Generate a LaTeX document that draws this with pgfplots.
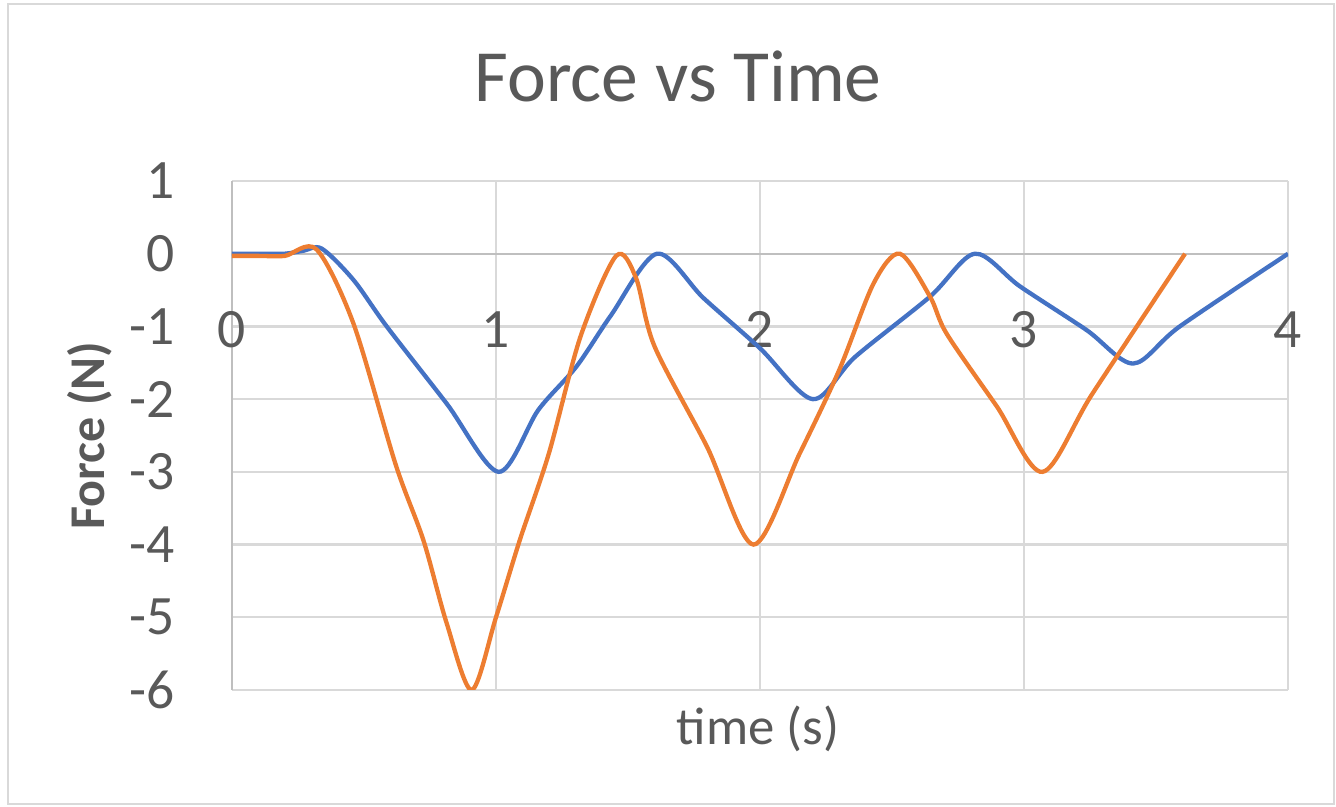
\documentclass[border=0pt]{standalone}
\usepackage{fontspec}
\setmainfont{Carlito}
\usepackage{pgfplots}
\pgfplotsset{compat=1.18}
\definecolor{xlblue}{HTML}{4472C4}
\definecolor{xlorange}{HTML}{ED7D31}
\definecolor{txt}{HTML}{595959}
\definecolor{grd}{HTML}{D9D9D9}
\definecolor{axl}{HTML}{BFBFBF}

\begin{document}
\begin{tikzpicture}
\useasboundingbox (-83.52pt,-42.12pt) rectangle (397.44pt,248.4pt);
\draw[grd, line width=0.8pt] (-80.64pt,-41.04pt) rectangle (396.72pt,246.96pt);
\begin{axis}[
  scale only axis, width=380.16pt, height=183.24pt,
  xmin=0, xmax=4, ymin=-6, ymax=1,
  axis x line=middle, axis y line=left,
  axis line style={-, draw=axl, line width=0.8pt},
  xtick={0,...,4}, ytick={-6,...,1},
  major tick length=0pt,
  hide obscured x ticks=false, hide obscured y ticks=false,
  grid=major, major grid style={grd, line width=0.8pt},
  /pgf/number format/assume math mode=true,
  tick label style={font=\fontsize{20}{24}\selectfont, text=txt},
  xticklabel style={anchor=center, inner sep=0pt, yshift=-27.3pt},
  yticklabel style={anchor=east, inner sep=0pt, xshift=-20.5pt},
  title={Force vs Time},
  every axis title/.style={at={(axis description cs:0.4224,1.1558)}, anchor=base,
    font=\fontsize{26.5}{30}\selectfont, text=txt},
  xlabel={time (s)},
  every axis x label/.style={at={(axis description cs:0.498,-0.108)}, anchor=base,
    font=\fontsize{19}{23}\selectfont, text=txt},
  ylabel={Force (N)},
  every axis y label/.style={at={(axis description cs:-0.1203,0.5)}, rotate=90, anchor=base,
    font=\fontsize{18}{22}\selectfont\bfseries, text=txt},
]
\addplot[xlblue, line width=1.55pt, smooth, tension=0.5] coordinates {
  (0,0) (0.1,0) (0.2,0) (0.27,0.04) (0.34,0.07) (0.46,-0.36)
  (0.586,-1.0) (0.813,-2.06) (1.01,-3.0) (1.16,-2.15) (1.305,-1.55)
  (1.435,-0.85) (1.61,0) (1.786,-0.61) (2.0,-1.3) (2.2,-2.0) (2.36,-1.42)
  (2.644,-0.59) (2.814,0) (2.985,-0.45) (3.237,-1.05) (3.414,-1.51)
  (3.59,-1.0) (4,0)
};
\addplot[xlorange, line width=1.55pt, smooth, tension=0.5] coordinates {
  (0,-0.03) (0.1,-0.03) (0.2,-0.03) (0.32,0.06) (0.46,-0.96)
  (0.62,-2.9) (0.725,-3.94) (0.813,-5.08) (0.908,-6) (1.0,-5.0) (1.09,-3.94)
  (1.2,-2.75) (1.32,-1.14) (1.455,-0.03) (1.53,-0.33) (1.6,-1.27)
  (1.8,-2.66) (1.975,-4.0) (2.15,-2.75) (2.3,-1.6) (2.43,-0.41) (2.53,0)
  (2.644,-0.59) (2.707,-1.1) (2.897,-2.1) (3.07,-3.0) (3.26,-1.92) (3.61,0)
};
\end{axis}
\end{tikzpicture}
\end{document}
